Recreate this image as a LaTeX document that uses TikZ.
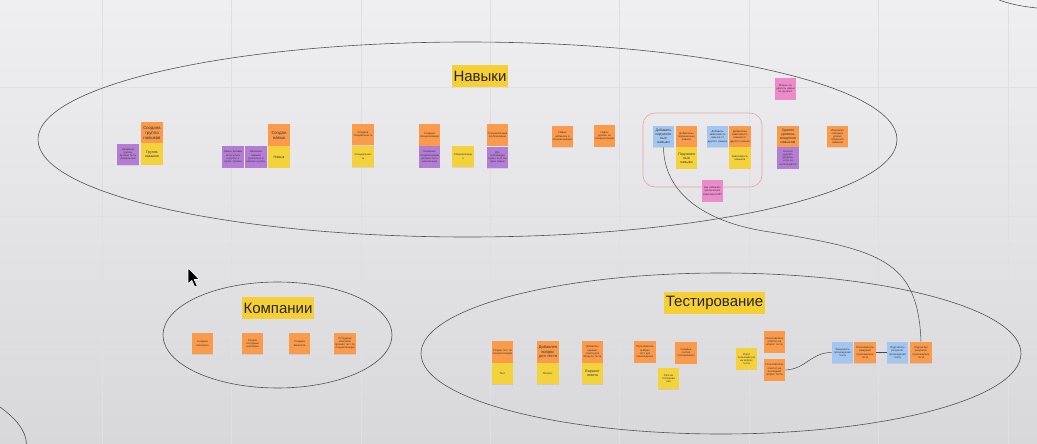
\documentclass[tikz,border=0pt]{standalone}
\usepackage{fontspec}
\setmainfont{Liberation Sans}
\usetikzlibrary{shadows}
\definecolor{boardtop}{HTML}{EFEFF1}
\definecolor{boardmid}{HTML}{EBEBED}
\definecolor{boardbot}{HTML}{D8D8DA}
\definecolor{gridline}{HTML}{DFDFE3}
\definecolor{evorange}{HTML}{F99B4A}
\definecolor{entyellow}{HTML}{F4D23C}
\definecolor{polpurple}{HTML}{B47DD5}
\definecolor{cmdblue}{HTML}{A2C6EF}
\definecolor{qpink}{HTML}{EC8BC9}
\definecolor{headyellow}{HTML}{F6CF35}
\definecolor{framered}{HTML}{E9A3A6}
\definecolor{notetext}{HTML}{3C3434}
\tikzset{
  sticky/.style={minimum width=21.5pt, minimum height=21.5pt, inner sep=0.8pt, text width=19.9pt,
    align=center, font=\fontsize{2.7}{3.2}\selectfont, text=notetext,
    drop shadow={shadow xshift=0.2pt, shadow yshift=-0.7pt, opacity=0.18}},
  evnote/.style={sticky, fill=evorange},
  entnote/.style={sticky, fill=entyellow},
  polnote/.style={sticky, fill=polpurple},
  cmdnote/.style={sticky, fill=cmdblue},
  qnote/.style={sticky, fill=qpink},
  midnote/.style={font=\fontsize{3.6}{4.1}\selectfont},
  bignote/.style={font=\fontsize{4.4}{5}\selectfont},
  areatitle/.style={fill=headyellow, font=\fontsize{15}{15}\selectfont, text=black!85,
    inner xsep=2pt, minimum height=22pt},
  area/.style={draw=black!68, line width=0.6pt},
  link/.style={draw=black!72, line width=0.5pt},
  frame/.style={draw=framered, line width=0.6pt, rounded corners=12pt}
}

\begin{document}
\begin{tikzpicture}[x=1pt, y=-1pt]
			%%%%% BOARD %%%%%
			\useasboundingbox (0,0) rectangle (1037,444);
			\shade[top color=boardtop, middle color=boardmid, bottom color=boardbot] (0,0) rectangle (1037,444);
			
			\draw[gridline, line width=0.6pt] (102,0) -- (102,444);
			\draw[gridline, line width=0.6pt] (231.4,0) -- (231.4,444);
			\draw[gridline, line width=0.6pt] (360.8,0) -- (360.8,444);
			\draw[gridline, line width=0.6pt] (490.2,0) -- (490.2,444);
			\draw[gridline, line width=0.6pt] (619.6,0) -- (619.6,444);
			\draw[gridline, line width=0.6pt] (749,0) -- (749,444);
			\draw[gridline, line width=0.6pt] (878.4,0) -- (878.4,444);
			\draw[gridline, line width=0.6pt] (1007.8,0) -- (1007.8,444);
			\draw[gridline, line width=0.6pt] (0,87) -- (1037,87);
			\draw[gridline, line width=0.6pt] (0,216.4) -- (1037,216.4);
			\draw[gridline, line width=0.6pt] (0,345.8) -- (1037,345.8);
			
			%%%%% AREAS %%%%%
			\draw[area] (467.5,139.5) ellipse [x radius=429.5, y radius=97.5];
			\draw[area] (277.5,335) ellipse [x radius=114.5, y radius=53];
			\draw[area] (721,353.5) ellipse [x radius=300, y radius=80.5];
			\draw[area] (999,0) .. controls (1010,4) and (1022,6.5) .. (1037,8);
			\draw[area] (0,407) .. controls (15,418) and (26,430) .. (26.5,444);
			
			\node[areatitle] (skills) at (480,76) {Навыки};
			\node[areatitle] (companies) at (278,308) {Компании};
			\node[areatitle] (testing) at (714.5,303) {Тестирование};
			
			%%%%% SKILLS %%%%%
			\node[polnote] (skp1) at (128,154.5) {Название группы должно быть уникальным};
			\node[evnote, bignote] (ske1) at (152,132.5) {Создана группа навыков};
			\node[entnote, midnote] (sky1) at (152,154) {Группа навыков};
			
			\node[polnote] (skp2) at (233,157) {Навык должен относиться к группе и иметь уровни};
			\node[polnote] (skp3) at (256,157) {Название навыка уникально в рамках группы};
			\node[evnote, bignote] (ske2) at (279,135) {Создан навык};
			\node[entnote, midnote] (sky2) at (279,157) {Навык};
			
			\node[evnote] (ske3) at (363,134.5) {Создана специальность};
			\node[entnote] (sky3) at (363,156.5) {Специальнос\\ть};
			
			\node[evnote] (ske4) at (429.5,135) {Создана специализация};
			\node[polnote] (skp4) at (429.5,157) {Название специализации должно быть уникальным};
			\node[entnote] (sky4) at (463,156.5) {Специализаци\\я};
			\node[evnote] (ske5) at (497.5,135) {Специализация опубликована};
			\node[polnote] (skp5) at (497.5,157.5) {Для публикации нужен хотя бы один навык};
			
			\node[evnote] (ske6) at (562.5,136.5) {Навык добавлен в специализацию};
			\node[evnote] (ske7) at (604.5,136) {Навык удалён из специализации};
			
			\draw[frame] (643,113) rectangle (762,187);
			\node[cmdnote, midnote] (skc1) at (663.5,136.5) {Добавить\\подчинен\\ные\\навыки};
			\node[evnote] (ske8) at (686.5,136.5) {Добавлены подчиненные навыки};
			\node[entnote, midnote] (sky5) at (686.5,158) {Подчинен\\ные\\навыки};
			\node[cmdnote] (skc2) at (717.5,136.5) {Добавить зависимость навыка от другого навыка};
			\node[evnote] (ske9) at (740,136.5) {Добавлена зависимость навыка от другого навыка};
			\node[entnote] (sky6) at (740,158) {Зависимость навыков};
			\node[qnote] (skq1) at (712.5,191) {Как избежать циклических зависимостей?};
			
			\node[qnote] (skq2) at (785.5,89) {Можно ли удалять навык из группы?};
			\node[evnote, midnote] (ske10) at (788,136.5) {Удален уровень владения навыком};
			\node[polnote] (skp6) at (788,158) {Нельзя удалить уровень, если он используется};
			\node[evnote] (ske11) at (837.5,136.5) {Изменено описание уровня владения навыком};
			
			%%%%% COMPANIES %%%%%
			\node[evnote] (coe1) at (202.5,343.5) {Создана компания};
			\node[evnote] (coe2) at (252.5,343.5) {Создан сотрудник компании};
			\node[evnote] (coe3) at (299.5,343.5) {Создана вакансия};
			\node[evnote] (coe4) at (345,343.5) {Сотрудник компании прошёл тест по специализации};
			
			%%%%% TESTING %%%%%
			\node[evnote] (tse1) at (502.5,352) {Создан тест по специализации};
			\node[entnote] (tsy1) at (502.5,373.5) {Тест};
			\node[evnote, font=\fontsize{4}{4.6}\selectfont] (tse2) at (548,352) {Добавлен вопрос для теста};
			\node[entnote] (tsy2) at (548,373.5) {Вопрос};
			\node[evnote] (tse3) at (592.5,352) {Добавлен вариант ответа для вопроса теста};
			\node[entnote, midnote] (tsy3) at (592.5,373.5) {Вариант ответа};
			
			\node[evnote] (tse4) at (645,352) {Пользователь выбрал тест для прохождения};
			\node[entnote] (tsy4) at (668.5,378.5) {Сессия тестирова\\ния};
			\node[evnote] (tse5) at (686,353) {Создана сессия тестирования};
			\node[entnote] (tsy5) at (746.5,359) {Ответ пользователя на вопрос теста};
			\node[evnote] (tse6) at (774.5,342) {Пользователь ответил на вопрос теста};
			\node[evnote] (tse7) at (774.5,370) {Пользователь ответил на последний вопрос теста};
			
			\node[cmdnote] (tsc1) at (842.5,352.5) {Завершить прохождение теста};
			\node[evnote] (tse8) at (865,352.5) {Пользователь завершил прохождение теста};
			\node[cmdnote] (tsc2) at (897.5,352.5) {Подсчитать результат прохождения теста};
			\node[evnote] (tse9) at (921,352.5) {Подсчитан результат прохождения теста};
			
			%%%%% LINKS %%%%%
			\draw[link] (skc1.south) .. controls (664,190) and (700,222) .. (770,232)
			  .. controls (880,250) and (918,260) .. (tse9.north);
			\draw[link] (tse7.east) .. controls (806,369) and (811,352.5) .. (tsc1.west);
			\draw[link] (tse8.east) -- (tsc2.west);
			
			%%%%% CURSOR %%%%%
			\draw[fill=black, draw=white, line width=0.6pt, line join=round] (188,268) -- ++(0,16) -- ++(3.8,-3.6)
			  -- ++(3,6.6) -- ++(2.4,-1.1) -- ++(-3,-6.4) -- ++(5.2,0) -- cycle;
\end{tikzpicture}
\end{document}
